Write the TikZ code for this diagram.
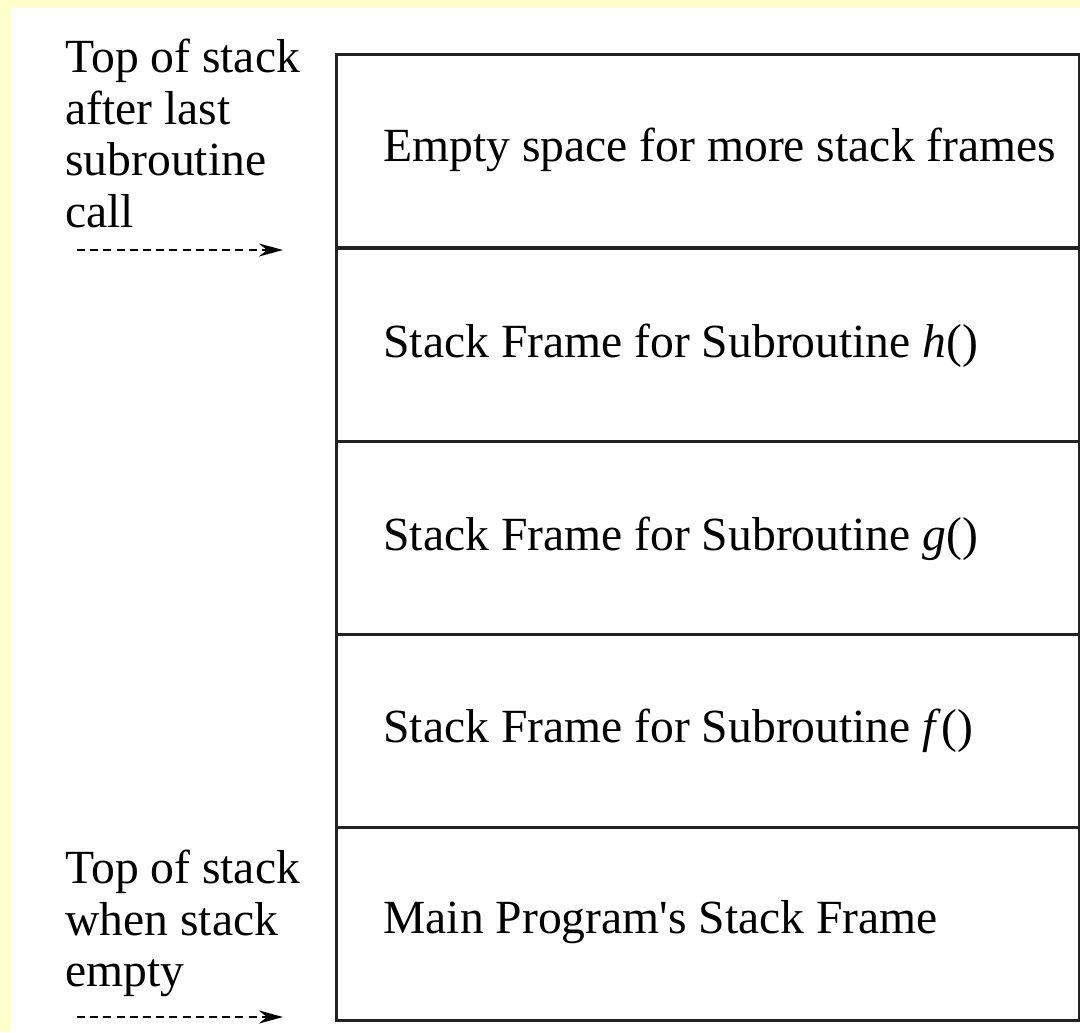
\documentclass[tikz,border=0pt]{standalone}
\usepackage{fontspec}
\setmainfont{Liberation Serif}[Ligatures=TeXOff]
\usetikzlibrary{arrows.meta}
\definecolor{bgyellow}{HTML}{FFFFCC}
\definecolor{linegray}{HTML}{222222}
\begin{document}
\begin{tikzpicture}[x=0.5pt,y=-0.5pt,
  framebox/.style={draw=linegray,line width=1.5pt,minimum width=371.5pt,minimum height=96.5pt,inner sep=0pt,anchor=north west},
  framelabel/.style={anchor=base west,inner sep=0pt,font=\fontsize{23.8}{25.75}\selectfont},
  sidelabel/.style={anchor=north west,inner sep=0pt,align=left,font=\fontsize{23.8}{25.75}\selectfont},
  toparrow/.style={line width=1.3pt,dash pattern=on 4pt off 2.6pt,-{Stealth[length=12pt,width=6.5pt,inset=4pt]}}]
\fill[bgyellow] (0,0) rectangle (1080,1032);
\fill[white] (11,7) rectangle (1080,1032);
\useasboundingbox (0,0) rectangle (1080,1032);
% frames
\node[framebox] (r1) at (335,53) {};
\node[framebox] (r2) at (335,246.5) {};
\node[framebox] (r3) at (335,440) {};
\node[framebox] (r4) at (335,633) {};
\node[framebox] (r5) at (335,826) {};
% frame labels
\node[framelabel] (t1) at (383,162) {Empty space for more stack frames};
\node[framelabel] (t2) at (383,357) {Stack Frame for Subroutine \textit{h}()};
\node[framelabel] (t3) at (383,550) {Stack Frame for Subroutine \textit{g}()};
\node[framelabel] (t4) at (383,742) {Stack Frame for Subroutine \textit{f}()};
\node[framelabel] (t5) at (383,933) {Main Program's Stack Frame};
% side labels
\node[sidelabel] (s1) at (65,39) {Top of stack\\after last\\subroutine\\call};
\node[sidelabel] (s2) at (65,850) {Top of stack\\when stack\\empty};
% arrows
\coordinate (a1s) at (77,250);
\coordinate (a1e) at (283,250);
\coordinate (a2s) at (77,1017);
\coordinate (a2e) at (283,1017);
\draw[toparrow] (a1s) -- (a1e);
\draw[toparrow] (a2s) -- (a2e);
\end{tikzpicture}
\end{document}
